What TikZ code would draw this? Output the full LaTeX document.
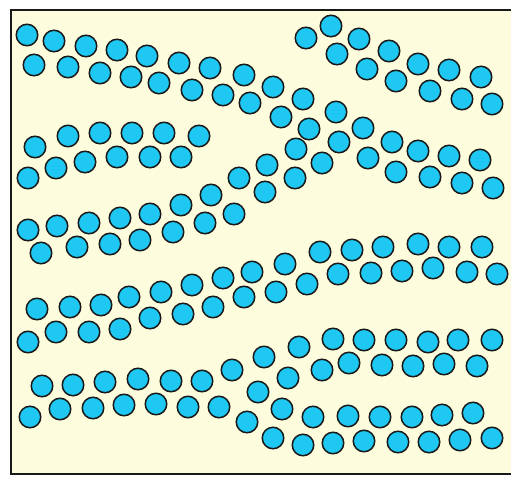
\documentclass[tikz,border=0pt]{standalone}
\usepackage{tikz}
\definecolor{fondo}{RGB}{253,253,222}
\definecolor{celeste}{RGB}{30,200,242}
\definecolor{borde}{RGB}{25,25,25}
\tikzset{
    bolita/.style={
        circle,
        draw=borde,
        fill=celeste,
        line width=1.5pt,
        minimum size=21.5pt,
        inner sep=0pt
    },
    marco/.style={
        draw=borde,
        line width=2.8pt
    }
}

\begin{document}
\begin{tikzpicture}[x=1pt, y=-1pt]

    \useasboundingbox (0,0) rectangle (511,477);

    % Fondo y marco
    \fill[fondo] (11,10) rectangle (511,474);
    \draw[marco] (511,10) -| (11,474) -- (511,474);

    % Banda superior
    \foreach \x/\y [count=\i] in {27/35, 54/41, 86/46, 117/50, 147/56,
            179/63, 210/68, 244/75, 273/87, 303/99, 336/112, 363/128,
            392/142, 418/151, 449/156, 480/160}
        \node[bolita] (a\i) at (\x,\y) {};
    \foreach \x/\y [count=\i] in {34/65, 68/67, 100/73, 131/77, 159/83,
            192/90, 223/95, 250/103, 281/117, 309/129, 339/142, 368/158,
            396/172, 430/177, 462/183, 493/188}
        \node[bolita] (b\i) at (\x,\y) {};

    % Grupo arriba a la derecha
    \foreach \x/\y [count=\i] in {306/38, 331/26, 359/39, 389/51, 418/64,
            449/70, 481/77}
        \node[bolita] (t\i) at (\x,\y) {};
    \foreach \x/\y [count=\i] in {337/54, 367/69, 396/81, 430/91, 462/99,
            492/104}
        \node[bolita] (u\i) at (\x,\y) {};

    % Grupo corto a la izquierda
    \foreach \x/\y [count=\i] in {35/147, 68/136, 100/133, 132/133,
            164/133, 199/136}
        \node[bolita] (c\i) at (\x,\y) {};
    \foreach \x/\y [count=\i] in {28/178, 56/168, 85/162, 117/157,
            150/157, 181/157}
        \node[bolita] (d\i) at (\x,\y) {};

    % Banda que sube
    \foreach \x/\y [count=\i] in {28/230, 57/226, 89/223, 120/218,
            150/214, 181/205, 211/195, 239/178, 267/165, 296/149}
        \node[bolita] (e\i) at (\x,\y) {};
    \foreach \x/\y [count=\i] in {41/253, 77/247, 110/244, 140/240,
            173/232, 205/223, 234/214, 265/192, 295/178, 322/163}
        \node[bolita] (f\i) at (\x,\y) {};

    % Banda del medio
    \foreach \x/\y [count=\i] in {37/309, 70/307, 101/305, 129/297,
            161/292, 192/285, 223/278, 252/272, 285/264, 320/252, 352/250,
            383/247, 418/244, 449/247, 482/247}
        \node[bolita] (g\i) at (\x,\y) {};
    \foreach \x/\y [count=\i] in {28/342, 56/332, 89/332, 120/329,
            150/318, 183/314, 213/307, 244/297, 276/292, 307/284, 338/274,
            371/273, 402/271, 433/268, 467/272, 497/274}
        \node[bolita] (h\i) at (\x,\y) {};

    % Banda inferior
    \foreach \x/\y [count=\i] in {42/386, 73/385, 105/382, 138/379,
            171/381, 202/381, 232/370, 264/357, 299/347, 333/339, 364/340,
            396/340, 428/342, 458/340, 492/340}
        \node[bolita] (k\i) at (\x,\y) {};
    \foreach \x/\y [count=\i] in {30/417, 60/409, 93/408, 124/405,
            156/404, 188/407, 219/407, 247/422}
        \node[bolita] (l\i) at (\x,\y) {};
    \foreach \x/\y [count=\i] in {258/392, 288/378, 322/370, 349/363,
            382/365, 413/366, 444/364, 477/366}
        \node[bolita] (m\i) at (\x,\y) {};
    \foreach \x/\y [count=\i] in {282/409, 313/417, 348/416, 380/417,
            412/417, 442/415, 473/413}
        \node[bolita] (n\i) at (\x,\y) {};
    \foreach \x/\y [count=\i] in {273/438, 303/445, 333/443, 364/441,
            398/442, 429/442, 460/440, 492/438}
        \node[bolita] (p\i) at (\x,\y) {};

\end{tikzpicture}
\end{document}
